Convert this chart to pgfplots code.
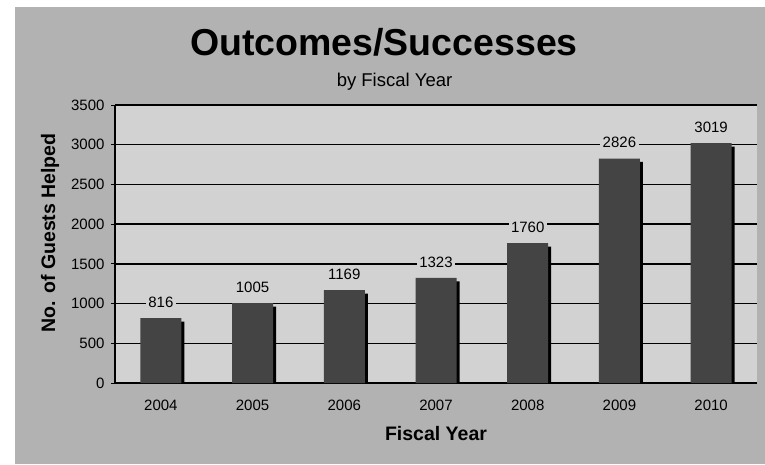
\documentclass[border=0pt]{standalone}
\usepackage{pgfplots}
\pgfplotsset{compat=1.18}
\usepackage{fontspec}
\setmainfont{Liberation Sans}
\definecolor{panelgray}{HTML}{B2B2B2}
\definecolor{plotgray}{HTML}{D2D2D2}
\definecolor{bargray}{HTML}{444444}

\pgfplotstableread{
x year val
0 2004 816
1 2005 1005
2 2006 1169
3 2007 1323
4 2008 1760
5 2009 2826
6 2010 3019
}\outcomes

\begin{document}
\begin{tikzpicture}[x=1pt,y=1pt]
% page and grey panel
\fill[white] (0pt,0pt) rectangle (765pt,464pt);
\fill[panelgray] (15pt,0pt) rectangle (765pt,457pt);
\useasboundingbox (0pt,0pt) rectangle (765pt,464pt);

\node[font=\fontsize{37.5}{40}\selectfont\bfseries, anchor=base] at (384pt,408pt) {Outcomes/Successes};
\node[font=\fontsize{18.5}{20}\selectfont, anchor=base] at (394.5pt,377pt) {by Fiscal Year};

\begin{axis}[
    at={(115pt,81pt)}, anchor=south west,
    scale only axis, width=642pt, height=278pt,
    xmin=-0.5, xmax=6.5, ymin=0, ymax=3500,
    ytick={0,500,...,3500},
    xtick={0,...,6},
    xticklabels={2004,2005,2006,2007,2008,2009,2010},
    minor xtick={-0.5,0.5,...,6.5},
    /pgf/number format/.cd, 1000 sep={}, assume math mode=true, /pgfplots/.cd,
    axis x line*=bottom, axis y line*=left,
    axis line style={black, line width=1.3pt, -},
    axis background/.style={fill=plotgray},
    ymajorgrids, major grid style={black, line width=1.4pt},
    xtick style={draw=none},
    minor x tick style={black, line width=1pt},
    minor tick length=6pt,
    ytick style={black, line width=1pt},
    major tick length=8pt,
    tick align=center,
    ticklabel style={font=\fontsize{15}{16}\selectfont},
    yticklabel style={xshift=-3pt},
    xticklabel style={yshift=-5.5pt},
    xlabel={Fiscal Year}, ylabel={No. of Guests Helped},
    label style={font=\fontsize{19.5}{21}\selectfont\bfseries},
    xlabel style={at={(axis description cs:0.5,-0.18)}, anchor=center},
    ylabel style={at={(axis description cs:-0.101,0.54)}, anchor=center},
    ybar, bar width=41pt,
]
% drop shadow
\addplot[fill=black, draw=none, bar shift=3pt, yshift=-3.4pt] table[x=x, y=val] {\outcomes};
% bars
\addplot[fill=bargray, draw=none, bar shift=0pt,
    nodes near coords,
    every node near coord/.append style={anchor=center, yshift=16pt,
        fill=plotgray, inner sep=2.5pt, text=black,
        font=\fontsize{15}{16}\selectfont}]
    table[x=x, y=val] {\outcomes};
\end{axis}
\end{tikzpicture}
\end{document}
